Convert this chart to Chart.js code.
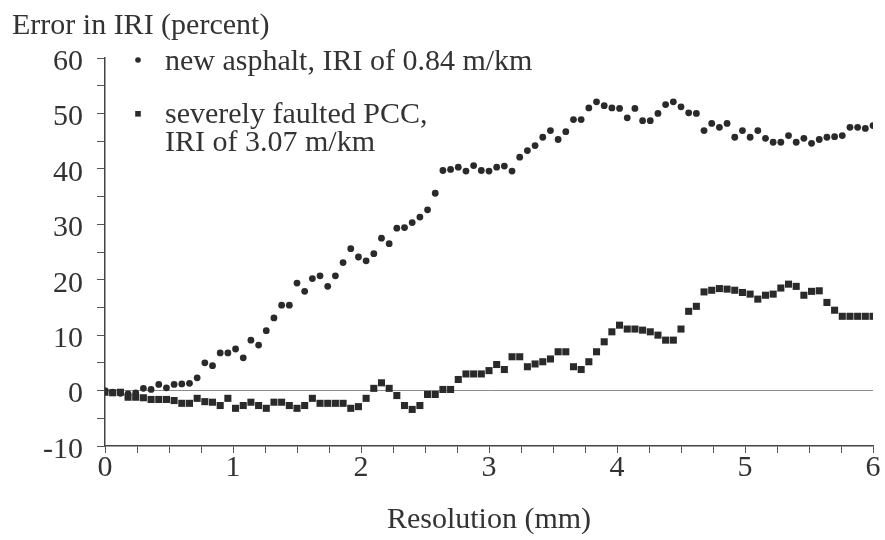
<!DOCTYPE html>
<html>
<head>
<meta charset="utf-8">
<script src="https://cdn.jsdelivr.net/npm/chart.js@4.4.1/dist/chart.umd.min.js"></script>
<style>
  html, body { margin: 0; padding: 0; background: #fff; }
  .wrap { width: 885px; height: 540px; }
</style>
</head>
<body>
<div class="wrap"><canvas id="chart"></canvas></div>
<script>
// resolution (mm) of each sample
const resolution = [0, 0.06, 0.12, 0.18, 0.24, 0.3, 0.36, 0.42, 0.48, 0.54,
  0.6, 0.66, 0.72, 0.78, 0.84, 0.9, 0.96, 1.02, 1.08, 1.14,
  1.2, 1.26, 1.32, 1.38, 1.44, 1.5, 1.56, 1.62, 1.68, 1.74,
  1.8, 1.86, 1.92, 1.98, 2.04, 2.1, 2.16, 2.22, 2.28, 2.34,
  2.4, 2.46, 2.52, 2.58, 2.64, 2.7, 2.76, 2.82, 2.88, 2.94,
  3, 3.06, 3.12, 3.18, 3.24, 3.3, 3.36, 3.42, 3.48, 3.54,
  3.6, 3.66, 3.72, 3.78, 3.84, 3.9, 3.96, 4.02, 4.08, 4.14,
  4.2, 4.26, 4.32, 4.38, 4.44, 4.5, 4.56, 4.62, 4.68, 4.74,
  4.8, 4.86, 4.92, 4.98, 5.04, 5.1, 5.16, 5.22, 5.28, 5.34,
  5.4, 5.46, 5.52, 5.58, 5.64, 5.7, 5.76, 5.82, 5.88, 5.94, 6];

// error in IRI (percent), new asphalt
const asphalt = [0, -0.3, -0.5, -0.6, -0.4, 0.4, 0.2, 1.1, 0.5, 1.1,
  1.2, 1.3, 2.3, 5.0, 4.5, 6.8, 6.8, 7.5, 5.9, 9.1,
  8.2, 10.8, 13.1, 15.4, 15.4, 19.4, 17.9, 20.2, 20.7, 18.8,
  20.7, 23.1, 25.6, 24.1, 23.4, 24.7, 27.5, 26.5, 29.3, 29.4,
  30.3, 31.3, 32.6, 35.6, 39.7, 39.9, 40.3, 39.6, 40.6, 39.7,
  39.6, 40.3, 40.5, 39.6, 42.1, 43.3, 44.2, 45.7, 46.9, 45.3,
  46.7, 48.9, 48.9, 51.0, 52.1, 51.4, 51.0, 50.9, 49.2, 50.9,
  48.7, 48.7, 50.0, 51.6, 52.1, 51.2, 50.1, 50.0, 46.9, 48.2,
  47.5, 48.2, 45.7, 46.9, 45.7, 46.9, 45.5, 44.8, 44.8, 46.0,
  44.8, 45.5, 44.6, 45.3, 45.7, 45.8, 46.0, 47.5, 47.5, 47.3, 47.8];

// error in IRI (percent), severely faulted PCC
const pcc = [-0.3, -0.4, -0.3, -1.2, -1.2, -1.3, -1.6, -1.6, -1.6, -1.8,
  -2.3, -2.3, -1.4, -2.0, -2.1, -2.7, -1.4, -3.2, -2.7, -2.1,
  -2.7, -3.2, -2.1, -2.1, -2.7, -3.2, -2.7, -1.4, -2.3, -2.3,
  -2.3, -2.3, -3.2, -2.9, -1.4, 0.4, 1.4, 0.4, -0.9, -2.7,
  -3.4, -2.7, -0.7, -0.7, 0.2, 0.2, 2.0, 3.0, 3.0, 3.0,
  3.6, 4.7, 3.8, 6.1, 6.1, 4.3, 4.8, 5.2, 5.7, 7.0,
  7.0, 4.3, 3.8, 5.2, 7.0, 8.8, 10.6, 11.8, 11.1, 11.1,
  10.9, 10.6, 10.0, 9.1, 9.1, 11.1, 14.3, 15.2, 17.8, 18.1,
  18.4, 18.3, 18.1, 17.7, 17.4, 16.5, 17.2, 17.4, 18.5, 19.2,
  18.8, 17.2, 17.9, 18.0, 15.9, 14.5, 13.4, 13.4, 13.4, 13.4, 13.4];

const seriesNames = [
  ['new asphalt, IRI of 0.84 m/km'],
  ['severely faulted PCC,', 'IRI of 3.07 m/km']
];

const serif = "'Liberation Serif', 'Times New Roman', serif";
const fontSize = 30;
const ink = '#333';
const dot = '#2a2a2a';

// legend drawn inside the plot, top left
const inlineLegend = {
  id: 'inlineLegend',
  afterDatasetsDraw(chart) {
    const { ctx, chartArea } = chart;
    const mx = chartArea.left + 33;
    const tx = chartArea.left + 60;
    ctx.save();
    ctx.fillStyle = dot;
    ctx.beginPath();
    ctx.arc(mx, chartArea.top + 2, 2.8, 0, Math.PI * 2);
    ctx.fill();
    ctx.fillRect(mx - 2.8, chartArea.top + 53, 5.6, 5.6);
    ctx.fillStyle = ink;
    ctx.font = fontSize + 'px ' + serif;
    ctx.textBaseline = 'middle';
    ctx.fillText(seriesNames[0][0], tx, chartArea.top + 4);
    ctx.fillText(seriesNames[1][0], tx, chartArea.top + 57);
    ctx.fillText(seriesNames[1][1], tx, chartArea.top + 85);
    ctx.restore();
  }
};

const config = {
  type: 'scatter',
  data: {
    datasets: [
      {
        label: seriesNames[0].join(' '),
        data: resolution.map((x, i) => ({ x: x, y: asphalt[i] })),
        pointStyle: 'circle',
        pointRadius: 3.4,
        pointBorderWidth: 0,
        backgroundColor: dot,
        showLine: false
      },
      {
        label: seriesNames[1].join(' '),
        data: resolution.map((x, i) => ({ x: x, y: pcc[i] })),
        pointStyle: 'rect',
        pointRadius: 5,
        pointBorderWidth: 0,
        backgroundColor: dot,
        showLine: false
      }
    ]
  },
  options: {
    responsive: true,
    maintainAspectRatio: false,
    animation: false,
    layout: { padding: { left: 12, right: 12, top: 0, bottom: 0 } },
    plugins: {
      legend: { display: false },
      tooltip: { enabled: false },
      title: {
        display: true,
        text: 'Error in IRI (percent)',
        align: 'start',
        color: ink,
        font: { family: serif, size: fontSize, weight: 'normal' },
        padding: { top: 8, bottom: 14 }
      }
    },
    scales: {
      x: {
        type: 'linear',
        min: 0,
        max: 6,
        afterFit: (s) => { s.height = 94; },
        border: { display: true, color: '#444', width: 1.5 },
        grid: { drawOnChartArea: false, tickLength: 7, tickColor: '#555' },
        ticks: {
          stepSize: 0.25,
          autoSkip: false,
          maxRotation: 0,
          padding: -3,
          color: ink,
          font: { family: serif, size: fontSize },
          callback: (v) => Math.abs(v - Math.round(v)) < 1e-6 ? Math.round(v) : ''
        },
        title: {
          display: true,
          text: 'Resolution (mm)',
          color: ink,
          font: { family: serif, size: fontSize },
          padding: { top: 0, bottom: 2 }
        }
      },
      y: {
        min: -10,
        max: 60,
        afterFit: (s) => { s.width = 93; },
        border: { display: true, color: '#444', width: 1.5 },
        grid: {
          tickLength: 8,
          tickColor: '#555',
          lineWidth: 1,
          color: (c) => c.tick && c.tick.value === 0 ? '#8c8c8c' : 'rgba(0,0,0,0)'
        },
        ticks: {
          stepSize: 5,
          autoSkip: false,
          padding: 14,
          labelOffset: 4,
          color: ink,
          font: { family: serif, size: fontSize },
          callback: (v) => v % 10 === 0 ? v : ''
        }
      }
    }
  },
  plugins: [inlineLegend]
};

const chart = new Chart(document.getElementById('chart'), config);
</script>
</body>
</html>
